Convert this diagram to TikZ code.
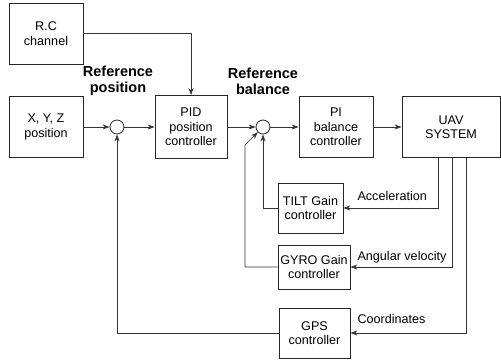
\documentclass[tikz,border=0pt]{standalone}
\usepackage{fontspec}
\setmainfont{Liberation Sans}
\usetikzlibrary{positioning,arrows.meta,calc}

\begin{document}
\begin{tikzpicture}[x=1pt, y=-1pt,
    blk/.style={draw=black!85, line width=0.8pt, align=center, inner sep=1pt,
        font=\fontsize{12.6}{14.5}\selectfont},
    sumnode/.style={draw=black!85, line width=0.8pt, circle, minimum size=14pt, inner sep=0pt},
    arr/.style={draw=black!80, line width=0.7pt, -{Stealth[length=7pt,width=5pt]}},
    lbl/.style={anchor=west, font=\fontsize{12.6}{14.5}\selectfont},
    ttl/.style={align=center, font=\fontsize{14.5}{16}\selectfont\bfseries}]

    \useasboundingbox (0,0) rectangle (501,361);

    % Blocks
    \node[blk, minimum width=74pt, minimum height=61pt] (rc) at (46,33.5) {R.C\\channel};
    \node[blk, minimum width=74pt, minimum height=61pt] (xyz) at (46,127) {X, Y, Z\\position};
    \node[sumnode] (sum1) at (117,127) {};
    \node[blk, minimum width=72pt, minimum height=63pt] (pid) at (191,127) {PID\\position\\controller};
    \node[sumnode] (sum2) at (263,127) {};
    \node[blk, minimum width=74pt, minimum height=61pt] (pi) at (336,127) {PI\\balance\\controller};
    \node[blk, minimum width=98pt, minimum height=61pt] (uav) at (451,127) {UAV\\SYSTEM};
    \node[blk, minimum width=65pt, minimum height=50pt] (tilt) at (310.5,208) {TILT Gain\\controller};
    \node[blk, minimum width=72pt, minimum height=44pt] (gyro) at (314,267) {GYRO Gain\\controller};
    \node[blk, minimum width=71pt, minimum height=50pt] (gps) at (314.5,333) {GPS\\controller};

    % Titles
    \node[ttl] (refpos) at (118,81) {Reference\\position};
    \node[ttl] (refbal) at (263,81) {Reference\\balance};

    % Forward path
    \draw[arr] (xyz) -- (sum1);
    \draw[arr] (sum1) -- (pid);
    \draw[arr] (rc.east) -| (pid.north);
    \draw[arr] (pid) -- (sum2);
    \draw[arr] (sum2) -- (pi);
    \draw[arr] (pi) -- (uav);

    % Measurements from the UAV
    \coordinate (accdrop) at ($(uav.south west)+(37,0)$);
    \coordinate (angdrop) at ($(uav.south west)+(51,0)$);
    \coordinate (crddrop) at ($(uav.south west)+(65,0)$);
    \draw[arr] (accdrop) |- (tilt.east);
    \draw[arr] (angdrop) |- (gyro.east);
    \draw[arr] (crddrop) |- (gps.east);
    \node[lbl] (acclbl) at (354,196) {Acceleration};
    \node[lbl] (anglbl) at (354,257) {Angular velocity};
    \node[lbl] (crdlbl) at (354,319) {Coordinates};

    % Feedback to the summing points
    \coordinate (gyrobend) at (245,145);
    \draw[arr] (tilt.west) -| (sum2.south);
    \draw[arr] (gyro.west) -| (gyrobend) -- (sum2.225);
    \draw[arr] (gps.west) -| (sum1.south);
\end{tikzpicture}
\end{document}
